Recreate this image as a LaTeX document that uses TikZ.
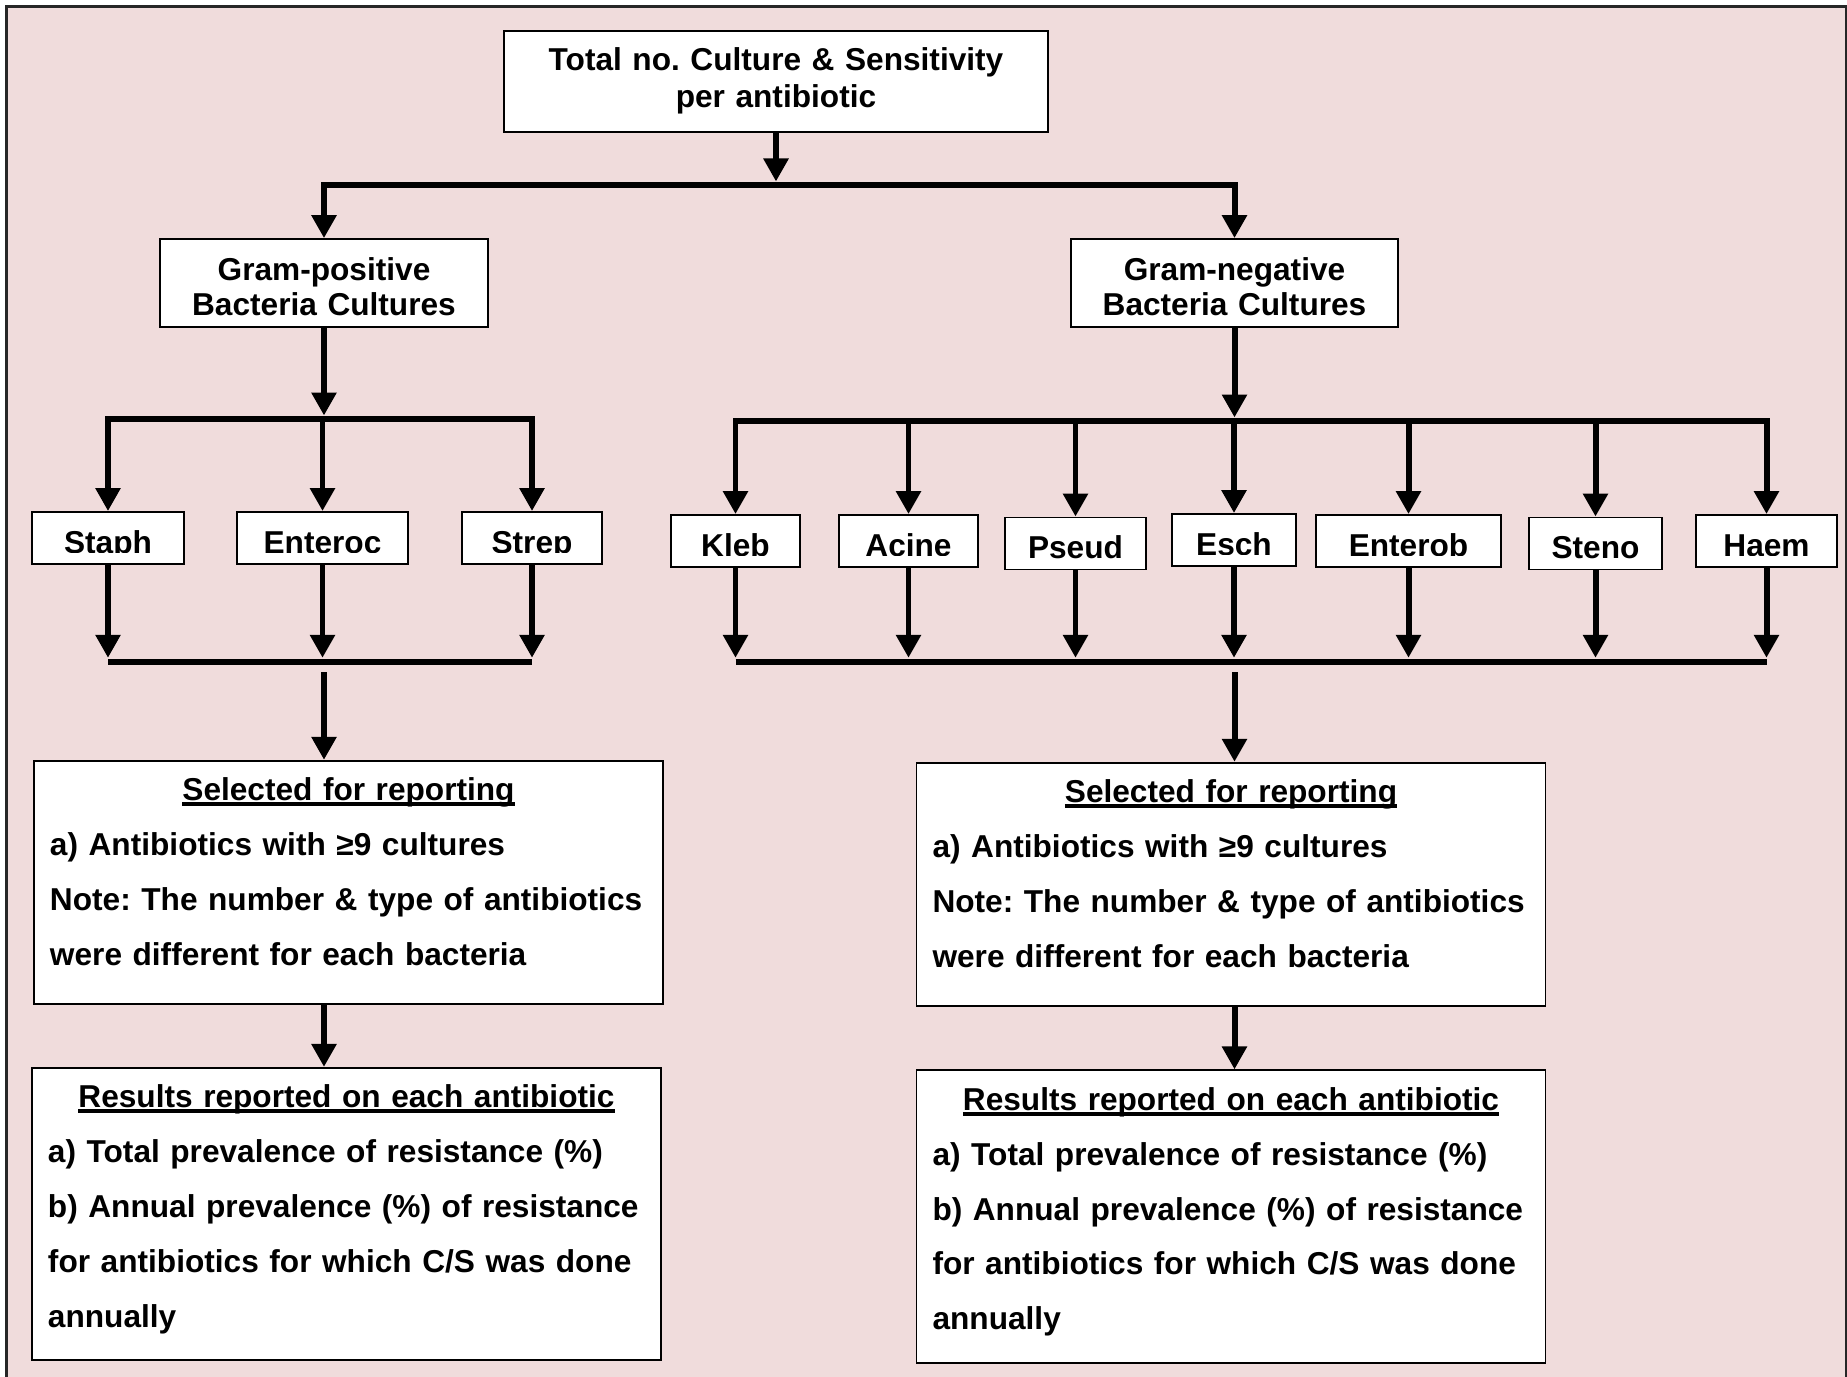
\documentclass[tikz,border=0pt]{standalone}
\usepackage{fontspec}
\setmainfont{Liberation Sans}
\usepackage{xcolor}
\usepackage{tikz}
\usetikzlibrary{arrows.meta, calc}
\definecolor{panelpink}{RGB}{240,220,220}
\tikzstyle{arrow} = [line width=1.7pt, -{Triangle[width=0.24cm,length=0.23cm]}]
\tikzstyle{bar} = [line width=1.7pt]
\frenchspacing
\hyphenpenalty=10000
\exhyphenpenalty=10000
% underline that runs just under the baseline
\newcommand{\undertitle}[1]{\setbox0\hbox{#1}\rlap{\rule[-0.17em]{\wd0}{0.12em}}\box0}

\begin{document}
\begin{tikzpicture}[
    box/.style={rectangle, draw, line width=0.55pt, fill=white, inner sep=0pt},
    struts/.style 2 args={execute at begin node={\noindent\rule{0pt}{#1}}, execute at end node={\rule[-#2]{0pt}{#2}}},
    headbox/.style={box, struts={3.9mm}{2.4mm}, text width=5.44cm, align=center, font=\bfseries\fontsize{9}{10.7}\selectfont},
    gram/.style={box, struts={4.1mm}{1.1mm}, text width=3.28cm, align=center, font=\bfseries\fontsize{9}{10.2}\selectfont},
    germ/.style={box, struts={4.1mm}{1.1mm}, minimum width=#1, font=\bfseries\fontsize{9}{10}\selectfont},
    report/.style={box, inner xsep=0.16cm, text width=5.97cm, align=left, font=\bfseries\fontsize{9}{15.6}\selectfont}
]

% Panel
\useasboundingbox (0,0) rectangle (18.47,-13.76);
\fill[panelpink] (0.065,-0.065) rectangle (18.46,-13.9);
\draw[line width=0.7pt, black!85] (0.065,-13.9) -- (0.065,-0.065) -- (18.46,-0.065) -- (18.46,-13.9);

% Top and gram groups
\node[headbox] (total) at (7.76,-0.815) {Total no. Culture \& Sensitivity\\per antibiotic};
\node[gram] (gpos) at (3.24,-2.83) {Gram-positive\\Bacteria Cultures};
\node[gram, text width=3.27cm] (gneg) at (12.345,-2.83) {Gram-negative\\Bacteria Cultures};

% Gram-positive genera
\node[germ=1.52cm] (staph) at (1.08,-5.38) {Staph};
\node[germ=1.71cm] (enteroc) at (3.225,-5.38) {Enteroc};
\node[germ=1.40cm] (strep) at (5.32,-5.38) {Strep};

% Gram-negative genera
\node[germ=1.29cm] (kleb) at (7.355,-5.41) {Kleb};
\node[germ=1.39cm] (acine) at (9.085,-5.41) {Acine};
\node[germ=1.41cm] (pseud) at (10.755,-5.435) {Pseud};
\node[germ=1.24cm] (esch) at (12.34,-5.40) {Esch};
\node[germ=1.85cm] (enterob) at (14.085,-5.41) {Enterob};
\node[germ=1.33cm] (steno) at (15.955,-5.435) {Steno};
\node[germ=1.41cm] (haem) at (17.665,-5.41) {Haem};

% descenders are cut at the text line
\foreach \g in {staph,enteroc,strep,kleb,acine,pseud,esch,enterob,steno,haem}
  \fill[white] ($(\g.south west)+(0.5pt,0.5pt)$) rectangle ($(\g.base -| \g.east)-(0.5pt,0)$);

% Reporting boxes
\node[report, struts={4mm}{3.9mm}] (selL) at (3.485,-8.825) {\makebox[\hsize]{\undertitle{Selected for reporting}}\\
a) Antibiotics with ≥9 cultures\\
Note: The number \& type of antibiotics\\
were different for each bacteria};
\node[report, struts={4mm}{3.3mm}] (resL) at (3.465,-12.14) {\makebox[\hsize]{\undertitle{Results reported on each antibiotic}}\\
a) Total prevalence of resistance (\%)\\
b) Annual prevalence (\%) of resistance\\
for antibiotics for which C/S was done\\
annually};

\node[report, struts={4mm}{3.9mm}] (selR) at (12.31,-8.845) {\makebox[\hsize]{\undertitle{Selected for reporting}}\\
a) Antibiotics with ≥9 cultures\\
Note: The number \& type of antibiotics\\
were different for each bacteria};
\node[report, struts={4mm}{3.3mm}] (resR) at (12.31,-12.165) {\makebox[\hsize]{\undertitle{Results reported on each antibiotic}}\\
a) Total prevalence of resistance (\%)\\
b) Annual prevalence (\%) of resistance\\
for antibiotics for which C/S was done\\
annually};

% Split into gram groups
\coordinate (split) at (7.76,-1.85);
\draw[arrow, shorten >=1pt] (total.south) -- (split);
\draw[arrow] (split) -| (gpos.north);
\draw[arrow] (split) -| (gneg.north);

% Split into genera
\coordinate (splitL) at (3.24,-4.19);
\draw[arrow, shorten >=1pt] (gpos.south) -- (splitL);
\foreach \g in {staph,enteroc,strep}
  \draw[arrow] (splitL) -| (\g.north);

\coordinate (splitR) at (12.345,-4.21);
\draw[arrow, shorten >=1pt] (gneg.south) -- (splitR);
\foreach \g in {kleb,acine,pseud,esch,enterob,steno,haem}
  \draw[arrow] (splitR) -| (\g.north);

% Merge back
\coordinate (joinL) at (3.24,-6.62);
\draw[bar] (staph.south |- joinL) -- (strep.south |- joinL);
\foreach \g in {staph,enteroc,strep}
  \draw[arrow, shorten >=1.2pt] (\g.south) -- (\g.south |- joinL);
\draw[arrow, shorten <=0.1cm] (joinL) -- (selL.north -| joinL);
\draw[arrow] (selL.south -| joinL) -- (resL.north -| joinL);

\coordinate (joinR) at (12.345,-6.62);
\draw[bar] (kleb.south |- joinR) -- (haem.south |- joinR);
\foreach \g in {kleb,acine,pseud,esch,enterob,steno,haem}
  \draw[arrow, shorten >=1.2pt] (\g.south) -- (\g.south |- joinR);
\draw[arrow, shorten <=0.1cm] (joinR) -- (selR.north -| joinR);
\draw[arrow] (selR.south -| joinR) -- (resR.north -| joinR);

\end{tikzpicture}
\end{document}
